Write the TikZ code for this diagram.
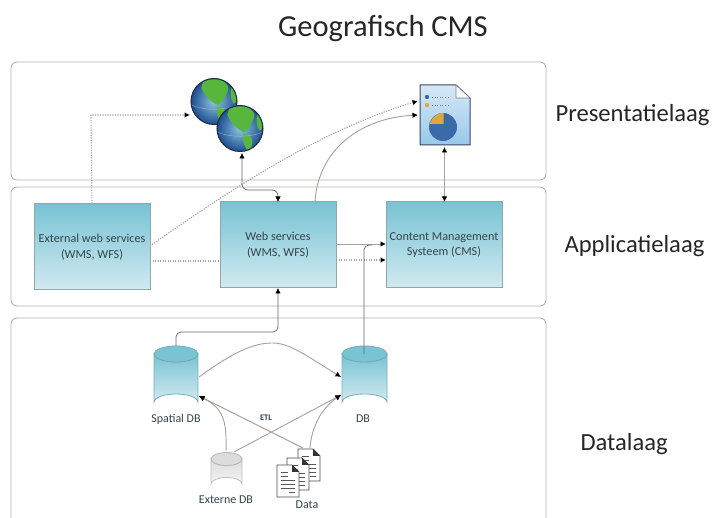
\documentclass[tikz,border=0pt]{standalone}
\usepackage{fontspec}
\setmainfont{Carlito}
\usetikzlibrary{arrows.meta,shadings}
\definecolor{edge}{HTML}{A8A09A}
\definecolor{panel}{HTML}{B4B4B0}
\definecolor{teal1}{HTML}{78C3D4}
\definecolor{teal2}{HTML}{D2EAF0}
\definecolor{grey1}{HTML}{DCDCDC}
\definecolor{grey2}{HTML}{F4F4F4}
\definecolor{boxedge}{HTML}{8FA6AC}
\definecolor{ink}{HTML}{34444A}
\definecolor{dark}{HTML}{404040}
\definecolor{seablue}{HTML}{2F74B4}
\definecolor{seadeep}{HTML}{1C4F8E}
\definecolor{sealight}{HTML}{8FC4E4}
\definecolor{land}{HTML}{58B63C}
\definecolor{globeline}{HTML}{1E2A40}
\definecolor{docline}{HTML}{3A4860}
\definecolor{doc1}{HTML}{D6E8F6}
\definecolor{doc2}{HTML}{98C8EA}
\definecolor{pieblue}{HTML}{3A6AA8}
\definecolor{pieorange}{HTML}{DDA83C}
\tikzset{
  panelbox/.style={draw=panel,line width=0.9pt,rounded corners=6pt,fill=white},
  tealbox/.style={draw=boxedge,line width=1pt,top color=teal1,bottom color=teal2,inner sep=0pt,minimum width=116pt,minimum height=86pt,align=center,text=ink,font=\fontsize{12.2}{15.5}\selectfont},
  anchorbox/.style={inner sep=0pt,outer sep=0pt},
  layertext/.style={font=\fontsize{24.6}{28}\selectfont,text=black!85,anchor=west},
  small/.style={font=\fontsize{12}{14}\selectfont,text=ink},
  tip/.style={-{Latex[length=5.5pt,width=5.5pt,color=black]}},
  tips/.style={{Latex[length=5.5pt,width=5.5pt,color=black]}-{Latex[length=5.5pt,width=5.5pt,color=black]}},
  conn/.style={draw=edge,line width=0.9pt},
  dots/.style={draw=edge,line width=1.1pt,dash pattern=on 1.2pt off 1.3pt},
  thin dark/.style={draw=dark!80,line width=0.7pt},
}
\newcommand{\cyl}[8]{% name, x0, x1, ytop, ybot, ry, topcolor, botcolor
  \path[draw=#7!70!gray,line width=0.8pt,top color=#7,bottom color=#8]
    (#2,#4) -- (#2,#5) arc[start angle=180,end angle=360,x radius={(#3-#2)/2},y radius=#6]
    -- (#3,#4) arc[start angle=0,end angle=180,x radius={(#3-#2)/2},y radius=#6] -- cycle;
  \path[draw=#7!60!gray,line width=0.8pt,fill=#7]
    ({(#2+#3)/2},#4) ellipse[x radius={(#3-#2)/2},y radius=#6];
  \node[anchorbox,minimum width=#3pt-#2pt,minimum height=#5pt-#4pt+#6pt+#6pt] (#1) at ({(#2+#3)/2},{(#4+#5)/2}) {};
}
\newcommand{\globe}[4]{% name, x, y, r
  \begin{scope}
    \node[circle,anchorbox,minimum size=2*#4 pt,draw=globeline,line width=1pt,
      inner color=sealight,outer color=seadeep] (#1) at (#2,#3) {};
    \clip (#2,#3) circle[radius=#4-0.8];
    \fill[land] (#2-0.45*#4,#3-0.95*#4) .. controls (#2+0.2*#4,#3-1.1*#4) and (#2+0.75*#4,#3-0.8*#4) .. (#2+0.6*#4,#3-0.45*#4)
      .. controls (#2+0.45*#4,#3-0.15*#4) and (#2+0.4*#4,#3+0.1*#4) .. (#2+0.15*#4,#3+0.15*#4)
      .. controls (#2-0.1*#4,#3+0.05*#4) and (#2-0.45*#4,#3-0.3*#4) .. (#2-0.55*#4,#3-0.6*#4) -- cycle;
    \fill[land] (#2+0.15*#4,#3+0.25*#4) .. controls (#2+0.55*#4,#3+0.25*#4) and (#2+0.65*#4,#3+0.5*#4) .. (#2+0.4*#4,#3+1.05*#4)
      .. controls (#2+0.2*#4,#3+0.8*#4) and (#2+0.05*#4,#3+0.5*#4) .. cycle;
    \fill[land] (#2+0.75*#4,#3-0.6*#4) .. controls (#2+1.1*#4,#3-0.5*#4) and (#2+1.1*#4,#3) .. (#2+0.85*#4,#3+0.1*#4)
      .. controls (#2+0.7*#4,#3-0.1*#4) and (#2+0.7*#4,#3-0.4*#4) .. cycle;
    \draw[white,opacity=0.35,line width=0.5pt] (#2-#4,#3+0.15*#4) .. controls (#2-0.4*#4,#3+0.4*#4) and (#2+0.4*#4,#3+0.4*#4) .. (#2+#4,#3+0.15*#4);
  \end{scope}
}
\newcommand{\page}[3]{% x, y, name
  \path[draw=black!70,line width=0.9pt,fill=white] (#1,#2) -- (#1+15,#2) -- (#1+22,#2+7) -- (#1+22,#2+32) -- (#1,#2+32) -- cycle;
  \fill[black!80] (#1+15,#2) -- (#1+22,#2+7) -- (#1+15,#2+7) -- cycle;
  \draw[black!65,line width=0.7pt] (#1+4,#2+7) -- (#1+11,#2+7) (#1+4,#2+11) -- (#1+11,#2+11)
    (#1+4,#2+15) -- (#1+18,#2+15) (#1+4,#2+19) -- (#1+18,#2+19) (#1+4,#2+23) -- (#1+18,#2+23) (#1+12,#2+27) -- (#1+18,#2+27);
  \node[anchorbox,minimum width=22pt,minimum height=32pt] (#3) at (#1+11,#2+16) {};
}
\begin{document}
\begin{tikzpicture}[x=1pt,y=-1pt]
\useasboundingbox[fill=white] (0,0) rectangle (713,518);
% panels
\path[panelbox] (11,62) rectangle (546,180);
\path[panelbox] (11,187) rectangle (546,306);
\path[panelbox] (11,318) rectangle (546,540);
% title and layers
\node[font=\fontsize{30.5}{34}\selectfont,text=black!85] (title) at (383,29) {Geografisch CMS};
\node[layertext] (lp) at (552,115) {Presentatielaag};
\node[layertext] (la) at (561,246) {Applicatielaag};
\node[layertext] (ld) at (577,444) {Datalaag};
% boxes
\node[tealbox] (ext) at (92,247) {External web services\\(WMS, WFS)};
\node[tealbox] (web) at (278,245) {Web services\\(WMS, WFS)};
\node[tealbox] (cms) at (444,245) {Content Management\\Systeem (CMS)};
% globes
\globe{gone}{214}{101.5}{23}
\globe{gtwo}{240}{128.5}{23}
% document
\path[draw=docline,line width=1pt,top color=doc1,bottom color=doc2] (420,85) -- (456,85) -- (470,98) -- (470,145) -- (420,145) -- cycle;
\path[draw=docline!70,line width=0.6pt,fill=white] (456,85) -- (470,98) -- (456,98) -- cycle;
\fill[pieblue] (443,127) circle[radius=14];
\fill[pieorange] (443.5,124) -- (443.5,113) arc[start angle=-90,end angle=-180,radius=14] -- (429.5,124) -- cycle;
\fill[pieblue] (427,97) circle[radius=2.2];
\fill[pieorange] (427,105) circle[radius=2.2];
\draw[gray,line width=0.6pt,dotted] (432,97) -- (450,97) (432,105) -- (448,105);
\node[anchorbox,minimum width=50pt,minimum height=60pt] (doc) at (445,115) {};
% cylinders
\cyl{sdb}{154}{198}{354}{402}{8}{teal1}{teal2}
\cyl{db}{342}{387}{354}{402}{8}{teal1}{teal2}
\cyl{xdb}{211}{242}{459}{484}{6.5}{grey1}{grey2}
% pages
\page{298}{449}{pc}
\page{287}{458}{pb}
\page{277}{465}{pa}
% labels
\node[small] (lsdb) at (176,419) {Spatial DB};
\node[small] (ldb) at (363,419) {DB};
\node[small,font=\fontsize{8.5}{10}\selectfont\bfseries] (letl) at (266,418) {ETL};
\node[small] (lxdb) at (226,500) {Externe DB};
\node[small] (ldata) at (307,505) {Data};
% helper ends
\coordinate (gin) at (190,115);
\coordinate (dina) at (418,101);
\coordinate (dinb) at (418,115);
\coordinate (cmsa) at (386,244);
\coordinate (cmsb) at (386,260);
\coordinate (weba) at (336,244);
\coordinate (webb) at (336,260);
\coordinate (extb) at (150,261);
\coordinate (webc) at (220,261);
\coordinate (extc) at (150,246);
\coordinate (webtop) at (315,202);
\coordinate (webin) at (278,202);
\coordinate (gout) at (242,153);
\coordinate (docout) at (444.5,147);
\coordinate (cmsin) at (444.5,202);
\coordinate (dbtop) at (364,354);
\coordinate (sdbtop) at (176,346);
\coordinate (webbot) at (278,288);
\coordinate (sdbr) at (199,377);
\coordinate (dbl) at (341,377);
\coordinate (sdbtopcurve) at (273,343);
\coordinate (sdbin) at (199,396);
\coordinate (dbin) at (341,395);
\coordinate (xtop) at (226,451);
\coordinate (xr) at (234,452);
\coordinate (pt) at (303,448);
\coordinate (pr) at (310,448);
% connectors
\draw[dots,tip] (ext.north) -- (91,115) -- (gin);
\draw[dots,tip] (extc) .. controls (230,190) and (320,130) .. (dina);
\draw[conn,tip] (webtop) .. controls (318,150) and (360,118) .. (dinb);
\draw[thin dark,tips,rounded corners=6pt] (gout) -- (242,190) -- (278,190) -- (webin);
\draw[conn,tips] (docout) -- (cmsin);
\draw[dots] (extb) -- (webc);
\draw[conn,tip] (weba) -- (cmsa);
\draw[dots,tip] (webb) -- (cmsb);
\draw[thin dark,rounded corners=5pt] (dbtop) -- (364,245) -- (372,245);
\draw[thin dark,tip,rounded corners=5pt] (sdbtop) -- (176,332) -- (278,332) -- (webbot);
\draw[conn,tip] (sdbr) .. controls (240,347) and (258,343) .. (sdbtopcurve) .. controls (290,343) and (310,358) .. (dbl);
\draw[conn,tip] (xtop) .. controls (227,418) and (222,408) .. (sdbin);
\draw[conn,tip] (pt) -- (sdbin);
\draw[conn,tip] (xr) -- (dbin);
\draw[conn,tip] (pr) .. controls (312,425) and (322,408) .. (dbin);
\end{tikzpicture}
\end{document}
